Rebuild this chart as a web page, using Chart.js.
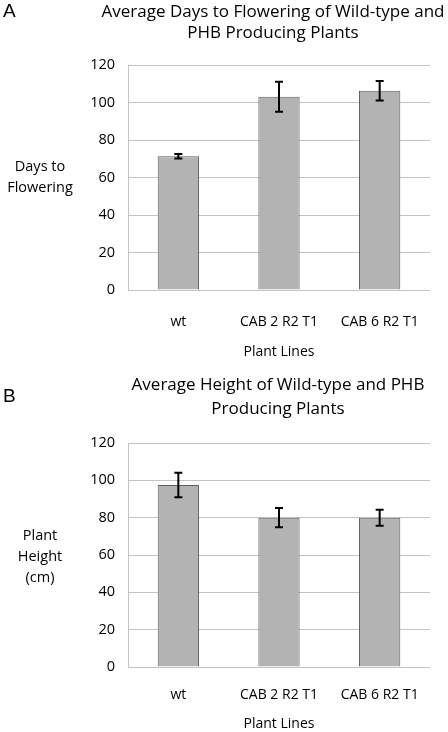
<!DOCTYPE html>
<html>
<head>
<meta charset="utf-8">
<script src="https://cdn.jsdelivr.net/npm/chart.js@4.4.1/dist/chart.umd.min.js"></script>
<style>
    html, body { margin: 0; padding: 0; background: #fff; }
    .panel { position: relative; width: 448px; height: 366px; }
</style>
</head>
<body>
<div class="panel"><canvas id="chart_a" width="448" height="366"></canvas></div>
<div class="panel"><canvas id="chart_b" width="448" height="366"></canvas></div>
<script>
// data
const plant_lines = ['wt', 'CAB 2 R2 T1', 'CAB 6 R2 T1'];
const days_to_flowering = [71.3, 103.1, 106.3];
const days_error = [1.2, 8.0, 5.2];
const plant_height = [97.5, 80.0, 80.0];
const height_error = [6.5, 5.2, 4.3];
const y_min = 0;
const y_max = 120;
const y_step = 20;

const FONT = '"Open Sans"';

const errorBarsPlugin = {
    id: 'errorBars',
    afterDatasetsDraw(chart) {
        const ctx = chart.ctx;
        const y_scale = chart.scales.y;
        const dataset = chart.data.datasets[0];
        const meta = chart.getDatasetMeta(0);
        ctx.save();
        ctx.strokeStyle = '#000';
        ctx.lineWidth = 2;
        meta.data.forEach((bar, i) => {
            const top = y_scale.getPixelForValue(dataset.data[i] + dataset.errors[i]);
            const bottom = y_scale.getPixelForValue(dataset.data[i] - dataset.errors[i]);
            ctx.beginPath();
            ctx.moveTo(bar.x, top);
            ctx.lineTo(bar.x, bottom);
            ctx.moveTo(bar.x - 4, top);
            ctx.lineTo(bar.x + 4, top);
            ctx.moveTo(bar.x - 4, bottom);
            ctx.lineTo(bar.x + 4, bottom);
            ctx.stroke();
        });
        ctx.restore();
    }
};

// title, horizontal y-axis title and panel letter (the built-in title squeezes long lines)
const sideTextPlugin = {
    id: 'sideText',
    afterDraw(chart, args, opts) {
        const ctx = chart.ctx;
        const area = chart.chartArea;
        const mid = (area.top + area.bottom) / 2 + opts.y_title_shift;
        ctx.save();
        ctx.fillStyle = '#000';
        ctx.textAlign = 'center';
        ctx.textBaseline = 'middle';

        ctx.font = `17px ${FONT}`;
        opts.title.forEach((line, i) => ctx.fillText(line, opts.title_x, opts.title_y[i]));

        ctx.font = `14.5px ${FONT}`;
        opts.lines.forEach((line, i) => {
            ctx.fillText(line, 40, mid + (i - (opts.lines.length - 1) / 2) * 21);
        });

        ctx.font = '19px "Liberation Sans"';
        ctx.textAlign = 'left';
        ctx.fillText(opts.letter, 3, opts.letter_y);
        ctx.restore();
    }
};

function makeChart(canvas_id, values, errors, settings) {

    return new Chart(canvas_id, {
        type: 'bar',
        data: {
            labels: plant_lines,
            datasets: [{
                data: values,
                errors: errors,
                backgroundColor: '#b3b3b3',
                borderColor: '#5e5e5e',
                borderWidth: 1,
                barPercentage: 0.41,
                categoryPercentage: 1
            }]
        },
        options: {
            responsive: false,
            animation: false,
            devicePixelRatio: 1,
            layout: { padding: { left: 0, right: 18, top: settings.plot_top, bottom: 0 } },
            plugins: {
                legend: { display: false },
                tooltip: { enabled: false },
                title: { display: false },
                sideText: {
                    title: settings.title,
                    title_x: settings.title_x,
                    title_y: settings.title_y,
                    lines: settings.y_title,
                    y_title_shift: settings.y_title_shift,
                    letter: settings.letter,
                    letter_y: settings.letter_y
                }
            },
            scales: {
                x: {
                    grid: { display: false },
                    border: { display: false },
                    ticks: { color: '#000', font: { family: FONT, size: 14 }, padding: settings.tick_pad, maxRotation: 0 },
                    title: {
                        display: true,
                        text: 'Plant Lines',
                        color: '#000',
                        font: { family: FONT, size: 14 },
                        padding: { top: 0, bottom: settings.x_title_pad }
                    },
                    afterFit: (scale) => { scale.height = settings.x_height; }
                },
                y: {
                    min: y_min,
                    max: y_max,
                    grid: { color: '#c4c4c4', lineWidth: 1, drawTicks: false },
                    border: { display: true, color: '#c4c4c4' },
                    ticks: { stepSize: y_step, color: '#000', font: { family: FONT, size: 14.5 }, padding: 13 },
                    afterFit: (scale) => { scale.width = 128; }
                }
            }
        },
        plugins: [errorBarsPlugin, sideTextPlugin]
    });

}

makeChart('chart_a', days_to_flowering, days_error, {
    title: ['Average Days to Flowering of Wild-type and', 'PHB Producing Plants'],
    title_x: 273,
    title_y: [12, 33],
    plot_top: 65,
    y_title: ['Days to', 'Flowering'],
    y_title_shift: 0,
    letter: 'A',
    letter_y: 12,
    x_height: 76,
    tick_pad: 16,
    x_title_pad: 6
});

makeChart('chart_b', plant_height, height_error, {
    title: ['Average Height of Wild-type and PHB', 'Producing Plants'],
    title_x: 278,
    title_y: [19, 43],
    plot_top: 77,
    y_title: ['Plant', 'Height', '(cm)'],
    y_title_shift: 2,
    letter: 'B',
    letter_y: 31,
    x_height: 65,
    tick_pad: 12,
    x_title_pad: 0
});
</script>
</body>
</html>
